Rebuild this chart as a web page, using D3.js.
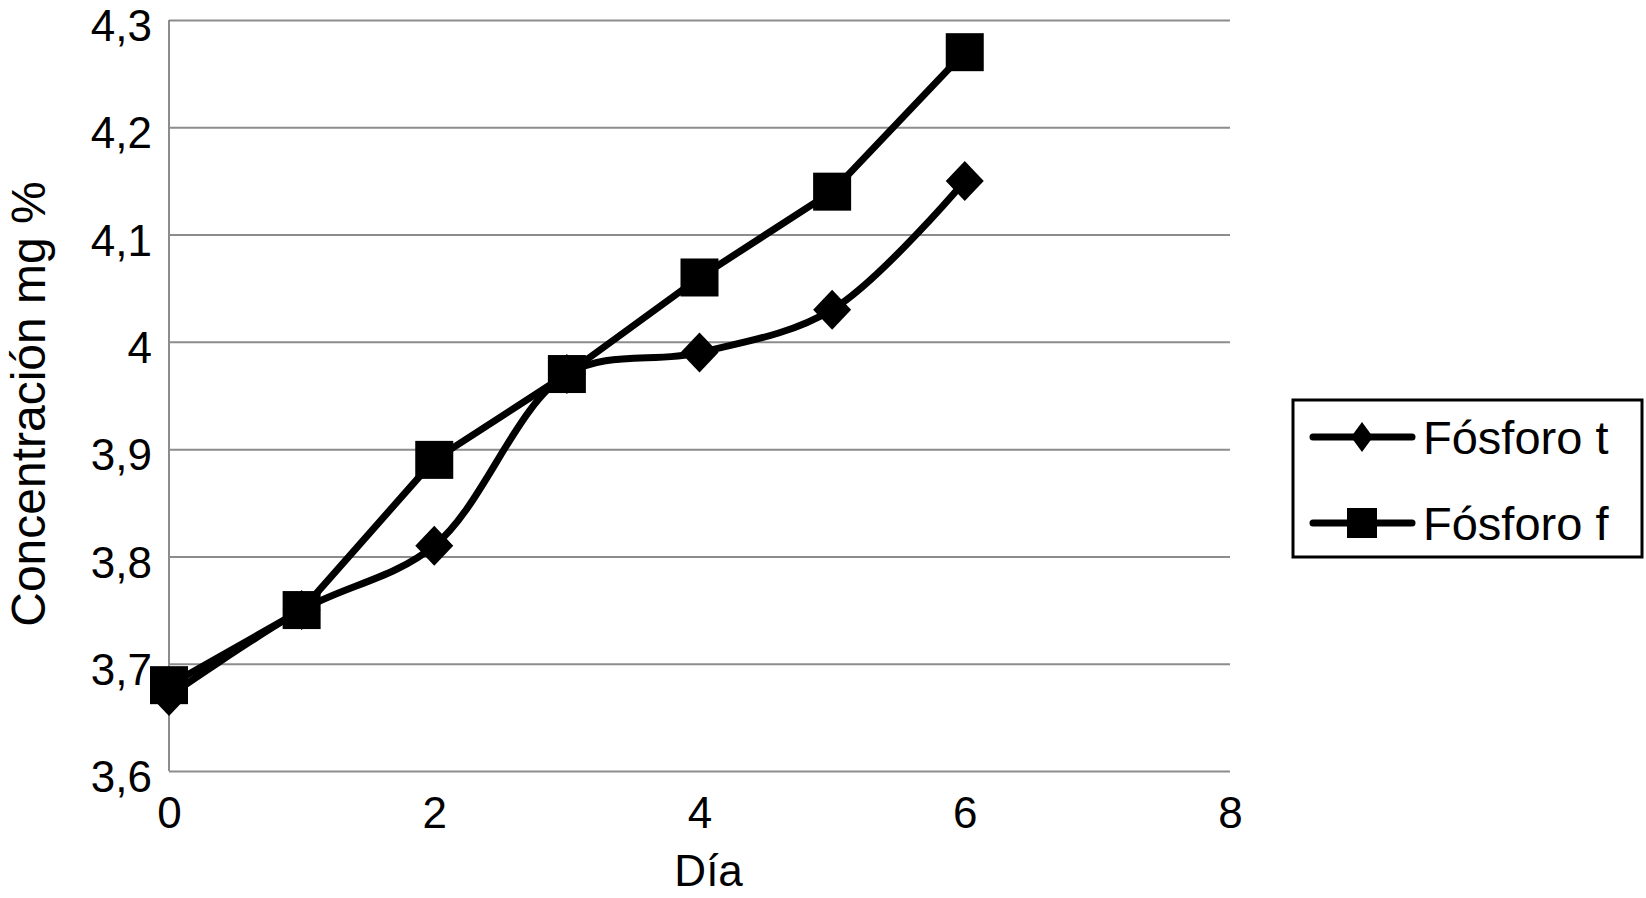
<!DOCTYPE html>
<html>
<head>
<meta charset="utf-8">
<script src="https://cdn.jsdelivr.net/npm/d3@7"></script>
<style>
  html, body { margin: 0; padding: 0; background: #fff; }
  svg text { font-family: "Liberation Sans", Arial, Helvetica, sans-serif; fill: #000; }
</style>
</head>
<body>
<svg id="chart" width="1646" height="898"></svg>
<script>
// ---- data ----
const days = [0, 1, 2, 3, 4, 5, 6];
const fosforoT = [3.67, 3.75, 3.81, 3.97, 3.99, 4.03, 4.15];
const fosforoF = [3.68, 3.75, 3.89, 3.97, 4.06, 4.14, 4.27];
const seriesNames = ["Fósforo t", "Fósforo f"];
const xTicks = [0, 2, 4, 6, 8];
const yTicks = [3.6, 3.7, 3.8, 3.9, 4.0, 4.1, 4.2, 4.3];
const xTitle = "Día";
const yTitle = "Concentración mg %";

// ---- layout ----
const svg = d3.select("#chart");
const x = d3.scaleLinear().domain([0, 8]).range([169, 1230]);
const y = d3.scaleLinear().domain([3.6, 4.3]).range([771, 20]);
const fmt = v => String(+v.toFixed(1)).replace(".", ",");

svg.append("rect").attr("width", 1646).attr("height", 898).attr("fill", "#fff");

// gridlines (y axis)
const yAxis = d3.axisLeft(y).tickValues(yTicks).tickSize(-(x.range()[1] - x.range()[0]))
  .tickFormat(fmt).tickPadding(17);
const gy = svg.append("g").attr("transform", `translate(${x.range()[0]},0)`).call(yAxis);
gy.select(".domain").remove();
gy.selectAll(".tick line").attr("stroke", "#8c8c8c").attr("stroke-width", 2);
gy.selectAll(".tick text").attr("font-size", 44).attr("dy", "0.47em")
  .style("font-family", "'Liberation Sans', Arial, sans-serif");

// left axis line
svg.append("line").attr("x1", x(0)).attr("x2", x(0)).attr("y1", y(4.3)).attr("y2", y(3.6))
  .attr("stroke", "#8c8c8c").attr("stroke-width", 2);

// x axis labels
const xAxis = d3.axisBottom(x).tickValues(xTicks).tickSize(0).tickPadding(26).tickFormat(d => d);
const gx = svg.append("g").attr("transform", `translate(0,${y(3.6)})`).call(xAxis);
gx.select(".domain").remove();
gx.selectAll(".tick text").attr("font-size", 44)
  .style("font-family", "'Liberation Sans', Arial, sans-serif");

// titles
svg.append("text").attr("x", 675 * 1.0498).attr("y", 886).attr("text-anchor", "middle")
  .attr("font-size", 44).text(xTitle);
svg.append("text").attr("transform", `translate(45,404) rotate(-90)`)
  .attr("text-anchor", "middle").attr("font-size", 48).text(yTitle);

// lines
const ptsT = days.map((d, i) => [d, fosforoT[i]]);
const ptsF = days.map((d, i) => [d, fosforoF[i]]);
const lineSmooth = d3.line().x(d => x(d[0])).y(d => y(d[1])).curve(d3.curveCatmullRom.alpha(0.5));
const lineStraight = d3.line().x(d => x(d[0])).y(d => y(d[1]));

svg.append("path").attr("d", lineSmooth(ptsT)).attr("fill", "none")
  .attr("stroke", "#000").attr("stroke-width", 7).attr("stroke-linejoin", "round");
svg.append("path").attr("d", lineStraight(ptsF)).attr("fill", "none")
  .attr("stroke", "#000").attr("stroke-width", 7).attr("stroke-linejoin", "round");

const diamond = (cx, cy, hw, hh) => `M${cx},${cy - hh}L${cx + hw},${cy}L${cx},${cy + hh}L${cx - hw},${cy}Z`;

svg.append("g").selectAll("path").data(ptsT).join("path")
  .attr("d", d => diamond(x(d[0]), y(d[1]), 19, 20)).attr("fill", "#000");
svg.append("g").selectAll("rect").data(ptsF).join("rect")
  .attr("x", d => x(d[0]) - 19).attr("y", d => y(d[1]) - 19)
  .attr("width", 38).attr("height", 38).attr("fill", "#000");

// legend
const lg = svg.append("g");
lg.append("rect").attr("x", 1293).attr("y", 400).attr("width", 349).attr("height", 157)
  .attr("fill", "#fff").attr("stroke", "#000").attr("stroke-width", 3);
const legendY = [437, 523];
seriesNames.forEach((name, i) => {
  const ly = legendY[i];
  lg.append("line").attr("x1", 1313).attr("x2", 1412).attr("y1", ly).attr("y2", ly)
    .attr("stroke", "#000").attr("stroke-width", 7).attr("stroke-linecap", "round");
  if (i === 0) {
    lg.append("path").attr("d", diamond(1362, ly, 11, 15)).attr("fill", "#000");
  } else {
    lg.append("rect").attr("x", 1362 - 15).attr("y", ly - 15).attr("width", 30).attr("height", 30).attr("fill", "#000");
  }
  lg.append("text").attr("x", 1423).attr("y", ly).attr("dy", "0.36em")
    .attr("font-size", 47).text(name);
});
</script>
</body>
</html>
